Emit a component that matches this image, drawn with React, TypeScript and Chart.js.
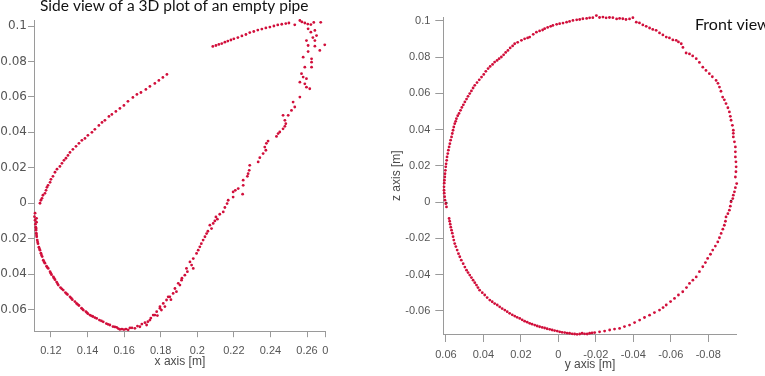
import React, { useEffect, useRef } from 'react';
import { Chart, registerables } from 'chart.js';

Chart.register(...registerables);

// ---------- Side view (x axis [m] vs vertical) ----------
const sideX = [
  0.1140, 0.1145, 0.1151, 0.1156, 0.1167, 0.1173, 0.1178, 0.1184, 0.1195, 0.1200, 0.1211, 0.1222, 0.1233, 0.1249, 0.1260,
  0.1271, 0.1282, 0.1293, 0.1304, 0.1320, 0.1337, 0.1353, 0.1369, 0.1386, 0.1402, 0.1424, 0.1440, 0.1462, 0.1479, 0.1495,
  0.1517, 0.1533, 0.1555, 0.1577, 0.1599, 0.1621, 0.1648, 0.1670, 0.1692, 0.1719, 0.1741, 0.1768, 0.1790, 0.1812, 0.1834,
  0.2085, 0.2102, 0.2118, 0.2134, 0.2151, 0.2167, 0.2184, 0.2200, 0.2222, 0.2244, 0.2266, 0.2287, 0.2309, 0.2331, 0.2353,
  0.2375, 0.2397, 0.2419, 0.2440, 0.2462, 0.2484, 0.2501, 0.2533, 0.2561, 0.2572, 0.2588, 0.2604, 0.2621, 0.2637, 0.2675,
  0.2606, 0.2621, 0.2643, 0.2652, 0.2632, 0.2597, 0.2643, 0.2697, 0.2606, 0.2643, 0.2670, 0.2606, 0.2579, 0.2625, 0.2625,
  0.2588, 0.2625, 0.2570, 0.2579, 0.2597, 0.2561, 0.2588, 0.2597, 0.2615, 0.2561, 0.2524, 0.2533, 0.2515, 0.2497, 0.2469,
  0.2479, 0.2484,
  0.2479, 0.2469, 0.2451, 0.2442, 0.2433, 0.2387, 0.2378, 0.2369, 0.2375, 0.2360, 0.2342, 0.2333, 0.2287, 0.2284, 0.2278,
  0.2274, 0.2251, 0.2251, 0.2224, 0.2208, 0.2196, 0.2248, 0.2196, 0.2169, 0.2163, 0.2151, 0.2142, 0.2123, 0.2102, 0.2110,
  0.2096, 0.2087, 0.2069, 0.2078, 0.2058, 0.2051, 0.2042, 0.2032, 0.2022, 0.2014,
  0.2005, 0.1996, 0.1978, 0.1960, 0.1969, 0.1978, 0.1941, 0.1946, 0.1932, 0.1916, 0.1914, 0.1905, 0.1896, 0.1878, 0.1886,
  0.1868, 0.1850, 0.1856, 0.1832, 0.1841, 0.1814, 0.1823, 0.1796, 0.1804, 0.1796, 0.1778, 0.1782, 0.1768, 0.1759, 0.1746,
  0.1741, 0.1730, 0.1723, 0.1714, 0.1697, 0.1686, 0.1673, 0.1659, 0.1643, 0.1632, 0.1622, 0.1610, 0.1599, 0.1588, 0.1577,
  0.1568,
  0.1113, 0.1110, 0.1121, 0.1113, 0.1121, 0.1115, 0.1117, 0.1118, 0.1120, 0.1122, 0.1125, 0.1129, 0.1134, 0.1140, 0.1145,
  0.1152, 0.1158, 0.1167, 0.1176, 0.1185, 0.1195, 0.1203, 0.1213, 0.1222, 0.1231, 0.1240, 0.1252, 0.1267, 0.1279, 0.1290,
  0.1304, 0.1317, 0.1331, 0.1340, 0.1353, 0.1367, 0.1377, 0.1391, 0.1402, 0.1413, 0.1429, 0.1450, 0.1465, 0.1486, 0.1503,
  0.1522, 0.1539, 0.1559,
  0.1119, 0.1121, 0.1127, 0.1137, 0.1148, 0.1162, 0.1180, 0.1199, 0.1217, 0.1236, 0.1259, 0.1285, 0.1311, 0.1346, 0.1372,
  0.1396, 0.1421, 0.1440, 0.1476, 0.1512, 0.1549,
];
const sideY = [
  0.0000, 0.0017, 0.0028, 0.0045, 0.0056, 0.0073, 0.0090, 0.0101, 0.0118, 0.0135, 0.0152, 0.0175, 0.0192, 0.0208, 0.0225,
  0.0242, 0.0254, 0.0270, 0.0287, 0.0304, 0.0321, 0.0338, 0.0355, 0.0366, 0.0383, 0.0400, 0.0417, 0.0439, 0.0456, 0.0468,
  0.0490, 0.0501, 0.0518, 0.0535, 0.0552, 0.0575, 0.0597, 0.0614, 0.0625, 0.0642, 0.0659, 0.0676, 0.0693, 0.0710, 0.0727,
  0.0885, 0.0890, 0.0896, 0.0901, 0.0909, 0.0915, 0.0921, 0.0928, 0.0935, 0.0944, 0.0952, 0.0963, 0.0969, 0.0977, 0.0983,
  0.0989, 0.0994, 0.1000, 0.1006, 0.1010, 0.1014, 0.1017, 0.1007, 0.1031, 0.1023, 0.1017, 0.1011, 0.1008, 0.1020, 0.1021,
  0.0984, 0.0965, 0.0975, 0.0946, 0.0935, 0.0918, 0.0918, 0.0894, 0.0890, 0.0886, 0.0862, 0.0856, 0.0824, 0.0815, 0.0796,
  0.0768, 0.0768, 0.0731, 0.0712, 0.0703, 0.0683, 0.0674, 0.0655, 0.0646, 0.0599, 0.0571, 0.0543, 0.0524, 0.0496, 0.0496,
  0.0468, 0.0449,
  0.0434, 0.0420, 0.0402, 0.0393, 0.0377, 0.0351, 0.0338, 0.0317, 0.0299, 0.0280, 0.0257, 0.0233, 0.0214, 0.0186, 0.0167,
  0.0152, 0.0130, 0.0101, 0.0083, 0.0073, 0.0064, 0.0051, 0.0035, 0.0017, -0.0002, -0.0024, -0.0049, -0.0062, -0.0077, -0.0090,
  -0.0100, -0.0114, -0.0124, -0.0143, -0.0158, -0.0171, -0.0189, -0.0208, -0.0228, -0.0246,
  -0.0265, -0.0283, -0.0312, -0.0331, -0.0349, -0.0368, -0.0368, -0.0386, -0.0406, -0.0423, -0.0434, -0.0462, -0.0452, -0.0481, -0.0499,
  -0.0509, -0.0528, -0.0544, -0.0546, -0.0528, -0.0565, -0.0583, -0.0584, -0.0603, -0.0593, -0.0612, -0.0634, -0.0631, -0.0631, -0.0648,
  -0.0659, -0.0668, -0.0687, -0.0674, -0.0682, -0.0697, -0.0693, -0.0706, -0.0703, -0.0703, -0.0714, -0.0710, -0.0713, -0.0710, -0.0712,
  -0.0707,
  -0.0056, -0.0076, -0.0085, -0.0096, -0.0107, -0.0118, -0.0135, -0.0152, -0.0169, -0.0189, -0.0208, -0.0228, -0.0248, -0.0265, -0.0282,
  -0.0301, -0.0321, -0.0338, -0.0355, -0.0368, -0.0386, -0.0403, -0.0415, -0.0431, -0.0445, -0.0462, -0.0476, -0.0490, -0.0504, -0.0515,
  -0.0528, -0.0544, -0.0555, -0.0565, -0.0577, -0.0592, -0.0603, -0.0611, -0.0623, -0.0631, -0.0639, -0.0650, -0.0659, -0.0669, -0.0679,
  -0.0687, -0.0696, -0.0700,
  -0.0144, -0.0179, -0.0218, -0.0257, -0.0292, -0.0330, -0.0362, -0.0395, -0.0423, -0.0454, -0.0483, -0.0510, -0.0536, -0.0571, -0.0597,
  -0.0617, -0.0635, -0.0645, -0.0664, -0.0683, -0.0698,
];
const sideXTicks = [0.12, 0.14, 0.16, 0.18, 0.2, 0.22, 0.24, 0.26, 0.27];
const sideXTickLabels = ['0.12', '0.14', '0.16', '0.18', '0.2', '0.22', '0.24', '0.26', '0'];

// ---------- Front view (y axis [m] vs z axis [m]) ----------
const frontY = [
  0.0597, 0.0601, 0.0605, 0.0607, 0.0609, 0.0610, 0.0610, 0.0609, 0.0608, 0.0606, 0.0605, 0.0603, 0.0601, 0.0599, 0.0596,
  0.0594, 0.0590, 0.0587, 0.0583, 0.0579, 0.0575, 0.0570, 0.0566, 0.0562, 0.0558, 0.0553, 0.0548, 0.0544, 0.0537, 0.0530,
  0.0522, 0.0515, 0.0507, 0.0499, 0.0490, 0.0482, 0.0473, 0.0464, 0.0455, 0.0446, 0.0434, 0.0422, 0.0410, 0.0398, 0.0387,
  0.0375, 0.0364, 0.0351, 0.0340, 0.0327, 0.0316, 0.0304, 0.0292, 0.0281, 0.0269, 0.0257, 0.0244, 0.0233, 0.0217, 0.0197,
  0.0180, 0.0164, 0.0153, 0.0134, 0.0117, 0.0100, 0.0084, 0.0073, 0.0057, 0.0041, 0.0029, 0.0009, -0.0007, -0.0025, -0.0044,
  -0.0060, -0.0078, -0.0098, -0.0114, -0.0131, -0.0151, -0.0167, -0.0184, -0.0203, -0.0220, -0.0238, -0.0255, -0.0273, -0.0291, -0.0311,
  -0.0327, -0.0344, -0.0361, -0.0380, -0.0398, -0.0416, -0.0433, -0.0451, -0.0469, -0.0487, -0.0504, -0.0522, -0.0540, -0.0558, -0.0576,
  -0.0593, -0.0611, -0.0629, -0.0641, -0.0656, -0.0665, -0.0682, -0.0700, -0.0717, -0.0736, -0.0753, -0.0771, -0.0788, -0.0806, -0.0822,
  -0.0842, -0.0852, -0.0860, -0.0868, -0.0877, -0.0886, -0.0895, -0.0905, -0.0913, -0.0918, -0.0922, -0.0929, -0.0934, -0.0934, -0.0934,
  -0.0940, -0.0945, -0.0945, -0.0945, -0.0948, -0.0949, -0.0948, -0.0945, -0.0952, -0.0945, -0.0940, -0.0934, -0.0931, -0.0922, -0.0918,
  -0.0913, -0.0905, -0.0895, -0.0892, -0.0886, -0.0878, -0.0869, -0.0860, -0.0851, -0.0838, -0.0824, -0.0812, -0.0797, -0.0785, -0.0771,
  -0.0753, -0.0736, -0.0718, -0.0700, -0.0684, -0.0664, -0.0641, -0.0620, -0.0599, -0.0576, -0.0559, -0.0540, -0.0513, -0.0487, -0.0460,
  -0.0434, -0.0407, -0.0380, -0.0353, -0.0327, -0.0300, -0.0274, -0.0247, -0.0220, -0.0194, -0.0167, -0.0140, -0.0114, -0.0087, -0.0060,
  -0.0034, -0.0007, 0.0020, 0.0046, 0.0073, 0.0100, 0.0126, 0.0153, 0.0180, 0.0206, 0.0233, 0.0260, 0.0286, 0.0313, 0.0340,
  0.0366, 0.0393, 0.0420, 0.0437, 0.0455, 0.0473, 0.0490, 0.0508, 0.0526, 0.0540, 0.0553, 0.0562, 0.0570, 0.0577, 0.0583,
  0.0580, 0.0574, 0.0566, 0.0558, 0.0547, 0.0533, 0.0518, 0.0499, 0.0482, 0.0464, 0.0446, 0.0429, 0.0406, 0.0380, 0.0353,
  0.0326, 0.0300, 0.0273, 0.0246, 0.0220, 0.0193, 0.0166, 0.0140, 0.0113, 0.0086, 0.0060, 0.0033, 0.0006, -0.0020, -0.0047,
  -0.0074, -0.0100, -0.0127, -0.0154, -0.0180,
];
const frontZ = [
  -0.0026, -0.0008, 0.0011, 0.0030, 0.0050, 0.0066, 0.0085, 0.0105, 0.0121, 0.0139, 0.0157, 0.0176, 0.0195, 0.0212, 0.0231,
  0.0250, 0.0268, 0.0287, 0.0305, 0.0323, 0.0342, 0.0360, 0.0379, 0.0397, 0.0415, 0.0433, 0.0446, 0.0461, 0.0477, 0.0490,
  0.0507, 0.0523, 0.0537, 0.0553, 0.0569, 0.0584, 0.0599, 0.0614, 0.0630, 0.0645, 0.0660, 0.0675, 0.0690, 0.0705, 0.0722,
  0.0737, 0.0749, 0.0760, 0.0773, 0.0782, 0.0792, 0.0801, 0.0813, 0.0826, 0.0837, 0.0851, 0.0862, 0.0874, 0.0882, 0.0893,
  0.0901, 0.0906, 0.0911, 0.0926, 0.0938, 0.0945, 0.0950, 0.0957, 0.0964, 0.0970, 0.0975, 0.0981, 0.0985, 0.0988, 0.0993,
  0.0997, 0.1003, 0.1006, 0.1008, 0.1012, 0.1014, 0.1017, 0.1018, 0.1030, 0.1019, 0.1021, 0.1017, 0.1019, 0.1018, 0.1011,
  0.1014, 0.1012, 0.1008, 0.1011, 0.1018, 0.0993, 0.0989, 0.0978, 0.0970, 0.0961, 0.0953, 0.0948, 0.0934, 0.0923, 0.0911,
  0.0906, 0.0895, 0.0893, 0.0884, 0.0874, 0.0854, 0.0823, 0.0818, 0.0807, 0.0792, 0.0771, 0.0745, 0.0727, 0.0709, 0.0692,
  0.0672, 0.0656, 0.0635, 0.0612, 0.0580, 0.0565, 0.0544, 0.0521, 0.0498, 0.0474, 0.0452, 0.0424, 0.0397, 0.0380, 0.0360,
  0.0333, 0.0305, 0.0278, 0.0250, 0.0223, 0.0195, 0.0168, 0.0139, 0.0103, 0.0080, 0.0057, 0.0039, 0.0020, 0.0002, -0.0022,
  -0.0044, -0.0063, -0.0081, -0.0105, -0.0127, -0.0149, -0.0172, -0.0196, -0.0219, -0.0242, -0.0264, -0.0287, -0.0310, -0.0333, -0.0356,
  -0.0383, -0.0412, -0.0430, -0.0448, -0.0471, -0.0494, -0.0512, -0.0531, -0.0548, -0.0567, -0.0581, -0.0595, -0.0609, -0.0623, -0.0636,
  -0.0650, -0.0664, -0.0678, -0.0686, -0.0696, -0.0700, -0.0705, -0.0711, -0.0715, -0.0719, -0.0723, -0.0726, -0.0727, -0.0727, -0.0723,
  -0.0719, -0.0715, -0.0708, -0.0701, -0.0694, -0.0687, -0.0678, -0.0668, -0.0656, -0.0641, -0.0628, -0.0613, -0.0595, -0.0577, -0.0559,
  -0.0540, -0.0512, -0.0485, -0.0457, -0.0430, -0.0402, -0.0375, -0.0339, -0.0301, -0.0264, -0.0228, -0.0190, -0.0154, -0.0121, -0.0090,
  -0.0105, -0.0138, -0.0171, -0.0209, -0.0245, -0.0284, -0.0320, -0.0358, -0.0388, -0.0416, -0.0444, -0.0471, -0.0499, -0.0526, -0.0549,
  -0.0567, -0.0587, -0.0604, -0.0621, -0.0635, -0.0649, -0.0662, -0.0673, -0.0683, -0.0691, -0.0698, -0.0705, -0.0711, -0.0718, -0.0722,
  -0.0726, -0.0729, -0.0723, -0.0727, -0.0721,
];
const frontMarkY = [0.0598, -0.0922];
const frontMarkZ = [-0.0004, 0.0006];
const frontYTicks = [0.06, 0.04, 0.02, 0, -0.02, -0.04, -0.06, -0.08];
const frontYTickLabels = ['0.06', '0.04', '0.02', '0', '-0.02', '-0.04', '-0.06', '-0.08'];

// shared vertical ticks
const vTicks = [-0.06, -0.04, -0.02, 0, 0.02, 0.04, 0.06, 0.08, 0.1];
const vTickLabels = ['-0.06', '-0.04', '-0.02', '0', '0.02', '0.04', '0.06', '0.08', '0.1'];

const sideTitle = 'Side view of a 3D plot of an empty pipe';
const frontTitle = 'Front view';

const DOT = '#d10f3b';
const AXIS = '#9a9a9a';
const TICK_TXT = '#555555';

const freeText = {
  id: 'freeText',
  afterDraw(chart: any, _args: any, opts: any) {
    const ctx = chart.ctx;
    ctx.save();
    (opts.items || []).forEach((it: any) => {
      ctx.font = it.font;
      ctx.fillStyle = it.color;
      ctx.textAlign = 'left';
      ctx.textBaseline = 'alphabetic';
      ctx.fillText(it.text, it.x, it.y);
    });
    ctx.restore();
  },
};

function makeAxis(o: any) {
  return {
    type: 'linear',
    min: o.min,
    max: o.max,
    reverse: !!o.reverse,
    afterBuildTicks: (s: any) => {
      s.ticks = o.ticks.map((v: number) => ({ value: v }));
    },
    afterFit: (s: any) => {
      if (o.width !== undefined) s.width = o.width;
      if (o.height !== undefined) s.height = o.height;
    },
    ticks: {
      callback: (_v: any, i: number) => o.labels[i],
      color: TICK_TXT,
      font: { family: o.tickFamily || 'Liberation Sans', size: o.tickSize || 11 },
      padding: o.tickPad,
      autoSkip: false,
      maxRotation: 0,
      minRotation: 0,
    },
    grid: {
      display: true,
      drawOnChartArea: false,
      drawTicks: true,
      tickLength: o.tickLen,
      color: AXIS,
      lineWidth: 1,
    },
    border: { display: true, color: AXIS, width: 1 },
    title: o.title
      ? {
          display: true,
          text: o.title,
          color: '#4a4a4a',
          font: { family: 'Liberation Sans', size: 12 },
          padding: o.titlePad,
        }
      : { display: false },
  };
}

export default function App() {
  const leftRef = useRef<HTMLCanvasElement | null>(null);
  const rightRef = useRef<HTMLCanvasElement | null>(null);

  useEffect(() => {
    const left = new Chart(leftRef.current as HTMLCanvasElement, {
      type: 'scatter',
      data: {
        datasets: [
          {
            data: sideX.map((x, i) => ({ x, y: sideY[i] })),
            pointRadius: 1.4,
            pointBackgroundColor: DOT,
            pointBorderWidth: 0,
            showLine: false,
            clip: 3,
          } as any,
        ],
      },
      options: {
        animation: false,
        responsive: false,
        events: [],
        layout: { padding: { top: 20.7, right: 19.7, bottom: 0, left: 0 } },
        plugins: {
          legend: { display: false },
          tooltip: { enabled: false },
          freeText: {
            items: [{ text: sideTitle, x: 40, y: 10.5, font: '15.5px Lato', color: '#111' }],
          },
        } as any,
        scales: {
          x: makeAxis({
            min: 0.111, max: 0.27, ticks: sideXTicks, labels: sideXTickLabels,
            height: 44.8, tickLen: 6, tickPad: 7, title: 'x axis [m]', titlePad: { top: 0, bottom: 6.8 },
          }),
          y: makeAxis({
            min: -0.0722, max: 0.103, ticks: vTicks, labels: vTickLabels,
            width: 34.5, tickLen: 6.5, tickPad: 1, tickFamily: 'DejaVu Sans', tickSize: 12,
          }),
        } as any,
      },
      plugins: [freeText as any],
    });

    const right = new Chart(rightRef.current as HTMLCanvasElement, {
      type: 'scatter',
      data: {
        datasets: [
          {
            data: frontY.map((x, i) => ({ x, y: frontZ[i] })),
            pointRadius: 1.4,
            pointBackgroundColor: DOT,
            pointBorderWidth: 0,
            showLine: false,
            clip: 3,
          } as any,
          {
            data: frontMarkY.map((x, i) => ({ x, y: frontMarkZ[i] })),
            pointRadius: 1.3,
            pointBackgroundColor: '#222222',
            pointBorderWidth: 0,
            showLine: false,
            clip: 3,
          } as any,
        ],
      },
      options: {
        animation: false,
        responsive: false,
        events: [],
        layout: { padding: { top: 17.3, right: 28.3, bottom: 0, left: 0 } },
        plugins: {
          legend: { display: false },
          tooltip: { enabled: false },
          freeText: {
            items: [{ text: frontTitle, x: 315, y: 30, font: '16px Lato', color: '#111' }],
          },
        } as any,
        scales: {
          x: makeAxis({
            min: -0.0952, max: 0.0614, reverse: true, ticks: frontYTicks, labels: frontYTickLabels,
            height: 42, tickLen: 8, tickPad: 6, title: 'y axis [m]', titlePad: { top: 0, bottom: 3.8 },
          }),
          y: makeAxis({
            min: -0.0727, max: 0.102, ticks: vTicks, labels: vTickLabels,
            width: 63.3, tickLen: 8, tickPad: 5, title: 'z axis [m]', titlePad: { top: 9.8, bottom: 0 },
          }),
        } as any,
      },
      plugins: [freeText as any],
    });

    return () => {
      left.destroy();
      right.destroy();
    };
  }, []);

  return (
    <div style={{ position: 'absolute', left: 0, top: 0, width: 765, height: 376, overflow: 'hidden', background: '#fff' }}>
      <div style={{ position: 'absolute', left: 0, top: 0, width: 345, height: 376 }}>
        <canvas ref={leftRef} width={345} height={376} style={{ width: 345, height: 376, display: 'block' }} />
      </div>
      <div style={{ position: 'absolute', left: 380, top: 0, width: 385, height: 376 }}>
        <canvas ref={rightRef} width={385} height={376} style={{ width: 385, height: 376, display: 'block' }} />
      </div>
    </div>
  );
}
